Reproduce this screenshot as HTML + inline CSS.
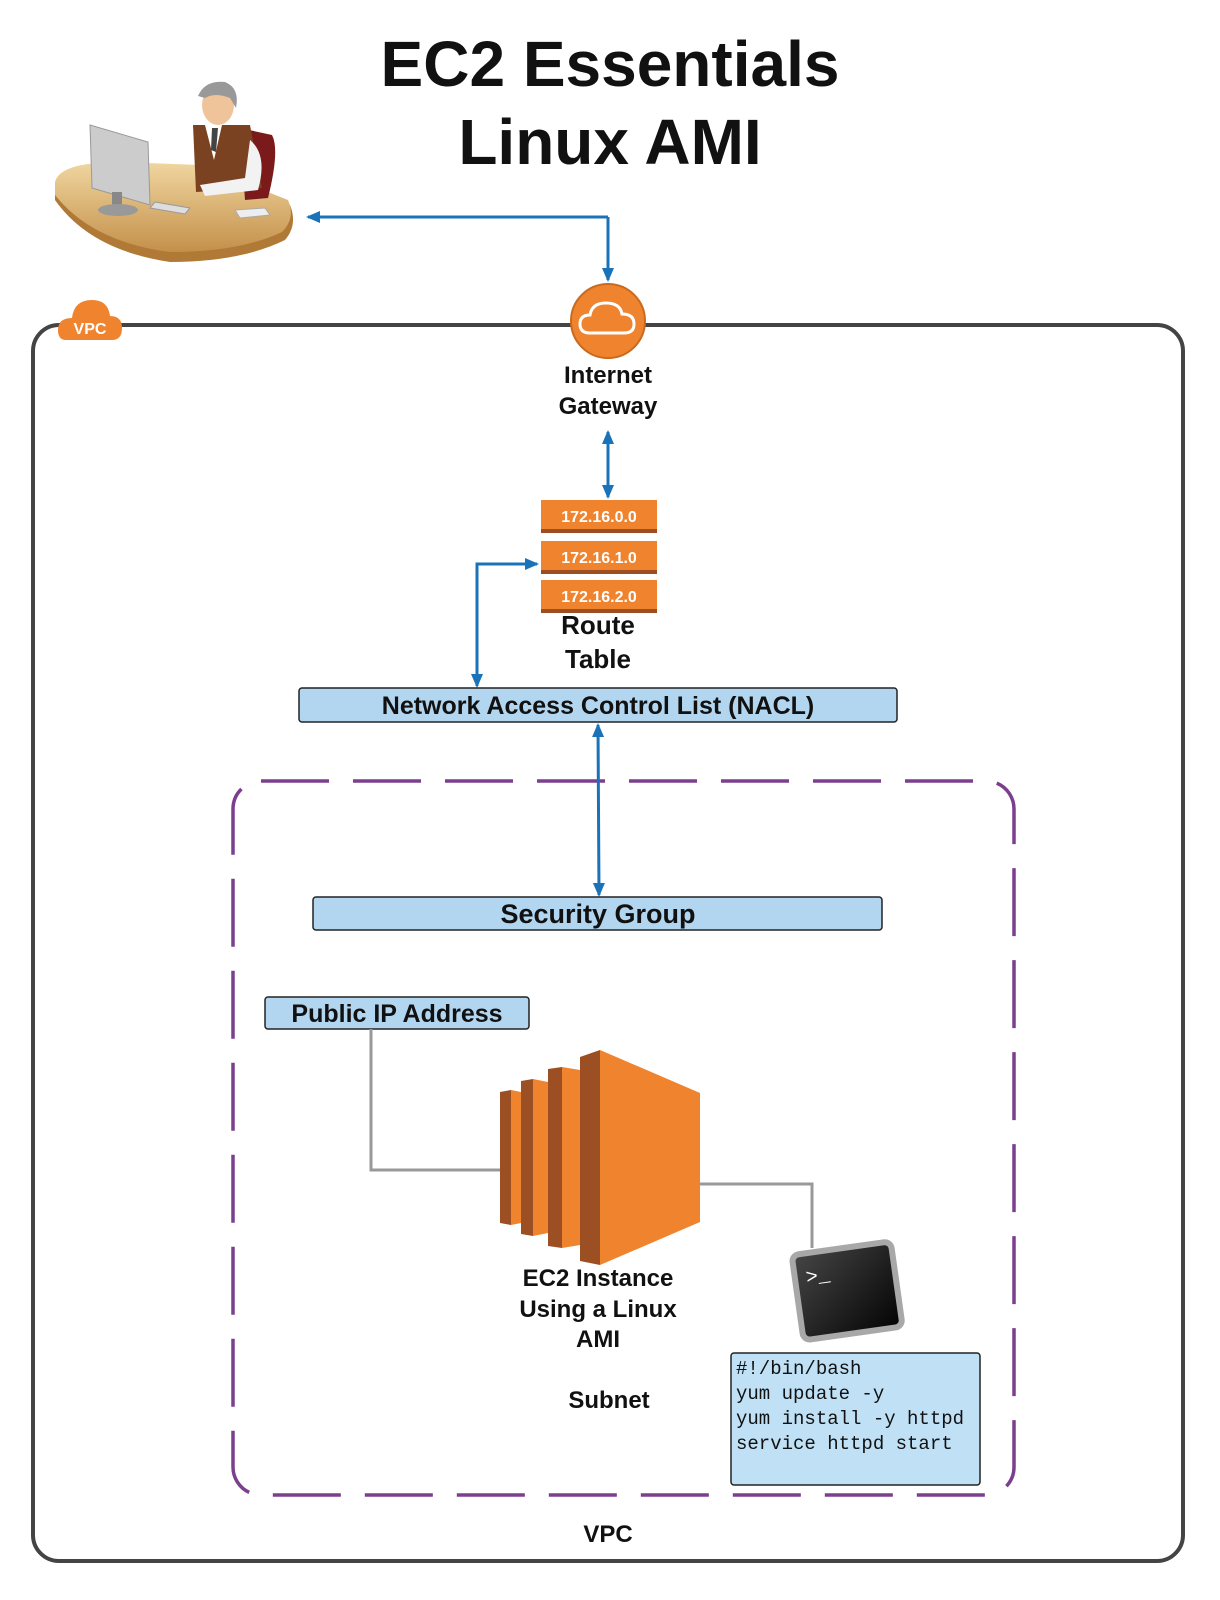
<!DOCTYPE html>
<html><head><meta charset="utf-8"><style>
html,body{margin:0;padding:0;background:#fff;}
svg{display:block;}
text{font-family:"Liberation Sans",Arial,sans-serif;font-weight:bold;fill:#111;}
.m{font-family:"Liberation Mono",monospace;font-weight:normal;}
</style></head><body>
<svg width="1220" height="1600" viewBox="0 0 1220 1600" xmlns="http://www.w3.org/2000/svg">
<defs>
<marker id="ah" markerWidth="10" markerHeight="10" refX="8" refY="5" orient="auto" markerUnits="userSpaceOnUse"><path d="M0,0 L10,5 L0,10 z" fill="#1a73b8"/></marker>
<marker id="ah2" markerWidth="14" markerHeight="14" refX="12" refY="7" orient="auto-start-reverse" markerUnits="userSpaceOnUse"><path d="M0,1 L14,7 L0,13 z" fill="#1a73b8"/></marker>
<linearGradient id="desk" x1="0" y1="0" x2="0" y2="1"><stop offset="0" stop-color="#f0d6a0"/><stop offset="1" stop-color="#c4904a"/></linearGradient>
<linearGradient id="term" x1="0" y1="0" x2="1" y2="1"><stop offset="0" stop-color="#444"/><stop offset="1" stop-color="#050505"/></linearGradient>
</defs>

<text x="610" y="86" font-size="64" text-anchor="middle">EC2 Essentials</text>
<text x="610" y="164" font-size="64" text-anchor="middle">Linux AMI</text>

<!-- person at desk -->
<g>
<path d="M55,185 Q60,165 120,165 L200,168 L290,205 Q298,225 285,240 Q240,262 170,262 Q90,250 55,200 z" fill="#b07a36"/>
<path d="M55,182 Q60,162 120,162 L200,165 L288,200 Q296,218 282,232 Q240,252 170,252 Q92,242 55,195 z" fill="url(#desk)"/>
<path d="M240,128 L272,135 Q280,150 268,198 L245,200 z" fill="#7a1a1a"/>
<path d="M193,125 L250,125 L262,188 L196,192 z" fill="#7b4222"/>
<path d="M205,125 L222,125 L214,160 z" fill="#fff"/>
<path d="M212,128 L218,128 L216,152 L211,150 z" fill="#444"/>
<path d="M250,140 Q268,155 258,190 L205,196 L200,185 L245,178 z" fill="#f2f2f2"/>
<ellipse cx="218" cy="105" rx="16" ry="20" fill="#f0c49a"/>
<path d="M198,96 Q205,80 225,82 Q240,88 236,108 L230,98 Q215,92 205,98 z" fill="#999"/>
<path d="M90,125 L148,142 L150,205 L92,188 z" fill="#ccc" stroke="#999"/>
<rect x="112" y="192" width="10" height="15" fill="#888"/>
<ellipse cx="118" cy="210" rx="20" ry="6" fill="#999"/>
<path d="M155,202 L190,208 L185,214 L150,208 z" fill="#ddd" stroke="#999"/>
<path d="M235,210 L265,208 L270,215 L240,218 z" fill="#eee" stroke="#aaa"/>
</g>

<!-- user <-> IGW arrow -->
<path d="M608,217 L308,217" stroke="#1a73b8" stroke-width="3" fill="none" marker-end="url(#ah2)"/>
<path d="M608,217 L608,280" stroke="#1a73b8" stroke-width="3" fill="none" marker-end="url(#ah2)"/>

<!-- VPC -->
<rect x="33" y="325" width="1150" height="1236" rx="26" fill="none" stroke="#444" stroke-width="4"/>
<g>
<path d="M66,340 Q58,340 58,330 Q58,318 72,318 Q74,300 92,300 Q108,300 110,316 Q122,316 122,328 Q122,340 112,340 z" fill="#f0832e"/>
<text x="90" y="334" font-size="16" text-anchor="middle" fill="#fff" style="fill:#fff">VPC</text>
</g>

<!-- IGW -->
<circle cx="608" cy="321" r="37" fill="#f0832e"/>
<circle cx="608" cy="321" r="37" fill="none" stroke="#c96a1e" stroke-width="2"/>
<path d="M590,333 Q580,333 580,324 Q580,315 590,315 Q592,303 606,303 Q620,303 622,314 Q634,314 634,324 Q634,333 624,333 z" fill="none" stroke="#fff" stroke-width="3"/>
<text x="608" y="383" font-size="24" text-anchor="middle">Internet</text>
<text x="608" y="414" font-size="24" text-anchor="middle">Gateway</text>

<path d="M608,432 L608,497" stroke="#1a73b8" stroke-width="3" fill="none" marker-start="url(#ah2)" marker-end="url(#ah2)"/>

<!-- route table -->
<g font-size="16">
<rect x="541" y="500" width="116" height="33" fill="#f0832e"/><rect x="541" y="529" width="116" height="4" fill="#9a4e22"/>
<text x="599" y="522" font-size="16" text-anchor="middle" style="fill:#fff">172.16.0.0</text>
<rect x="541" y="541" width="116" height="33" fill="#f0832e"/><rect x="541" y="570" width="116" height="4" fill="#9a4e22"/>
<text x="599" y="563" font-size="16" text-anchor="middle" style="fill:#fff">172.16.1.0</text>
<rect x="541" y="580" width="116" height="33" fill="#f0832e"/><rect x="541" y="609" width="116" height="4" fill="#9a4e22"/>
<text x="599" y="602" font-size="16" text-anchor="middle" style="fill:#fff">172.16.2.0</text>
</g>
<text x="598" y="634" font-size="26" text-anchor="middle">Route</text>
<text x="598" y="668" font-size="26" text-anchor="middle">Table</text>

<path d="M537,564 L477,564 L477,686" stroke="#1a73b8" stroke-width="3" fill="none" marker-start="url(#ah2)" marker-end="url(#ah2)"/>

<!-- NACL -->
<rect x="299" y="688" width="598" height="34" rx="3" fill="#b3d6f0" stroke="#222" stroke-width="1.5"/>
<text x="598" y="714" font-size="25" text-anchor="middle">Network Access Control List (NACL)</text>

<!-- subnet -->
<rect x="233" y="781" width="781" height="714" rx="28" fill="none" stroke="#7b3f8e" stroke-width="3.5" stroke-dasharray="68,24"/>

<path d="M598,725 L599,895" stroke="#1a73b8" stroke-width="3" fill="none" marker-start="url(#ah2)" marker-end="url(#ah2)"/>

<rect x="313" y="897" width="569" height="33" rx="3" fill="#b3d6f0" stroke="#222" stroke-width="1.5"/>
<text x="598" y="923" font-size="27" text-anchor="middle">Security Group</text>

<rect x="265" y="997" width="264" height="32" rx="3" fill="#b3d6f0" stroke="#222" stroke-width="1.5"/>
<text x="397" y="1022" font-size="25" text-anchor="middle">Public IP Address</text>

<path d="M371,1029 L371,1170 L500,1170" stroke="#999" stroke-width="3" fill="none"/>
<path d="M690,1184 L812,1184 L812,1248" stroke="#999" stroke-width="3" fill="none"/>

<!-- EC2 icon -->
<g>
<polygon points="500,1092 511,1090 511,1225 500,1223" fill="#9c4f23"/>
<polygon points="511,1090 521,1092 521,1223 511,1225" fill="#f0832e"/>
<polygon points="521,1081 533,1079 533,1236 521,1234" fill="#9c4f23"/>
<polygon points="533,1079 548,1082 548,1233 533,1236" fill="#f0832e"/>
<polygon points="548,1069 562,1067 562,1248 548,1246" fill="#9c4f23"/>
<polygon points="562,1067 580,1070 580,1245 562,1248" fill="#f0832e"/>
<polygon points="580,1057 600,1050 600,1265 580,1261" fill="#9c4f23"/>
<polygon points="600,1050 700,1093 700,1222 600,1265" fill="#f0832e"/>
</g>
<text x="598" y="1286" font-size="24" text-anchor="middle">EC2 Instance</text>
<text x="598" y="1317" font-size="24" text-anchor="middle">Using a Linux</text>
<text x="598" y="1347" font-size="24" text-anchor="middle">AMI</text>

<!-- terminal -->
<g transform="rotate(-8 846 1290)">
<rect x="794" y="1245" width="106" height="92" rx="10" fill="#a8a8a8"/>
<rect x="800" y="1251" width="94" height="80" rx="4" fill="url(#term)"/>
<text x="808" y="1278" font-size="20" style="fill:#fff" class="m">&gt;_</text>
</g>

<text x="609" y="1408" font-size="24" text-anchor="middle">Subnet</text>

<rect x="731" y="1353" width="249" height="132" rx="3" fill="#bfe0f5" stroke="#222" stroke-width="1.5"/>
<g font-size="19" class="m">
<text x="736" y="1374" class="m" font-size="19">#!/bin/bash</text>
<text x="736" y="1399" class="m" font-size="19">yum update -y</text>
<text x="736" y="1424" class="m" font-size="19">yum install -y httpd</text>
<text x="736" y="1449" class="m" font-size="19">service httpd start</text>
</g>

<text x="608" y="1542" font-size="24" text-anchor="middle">VPC</text>
</svg>
</body></html>
